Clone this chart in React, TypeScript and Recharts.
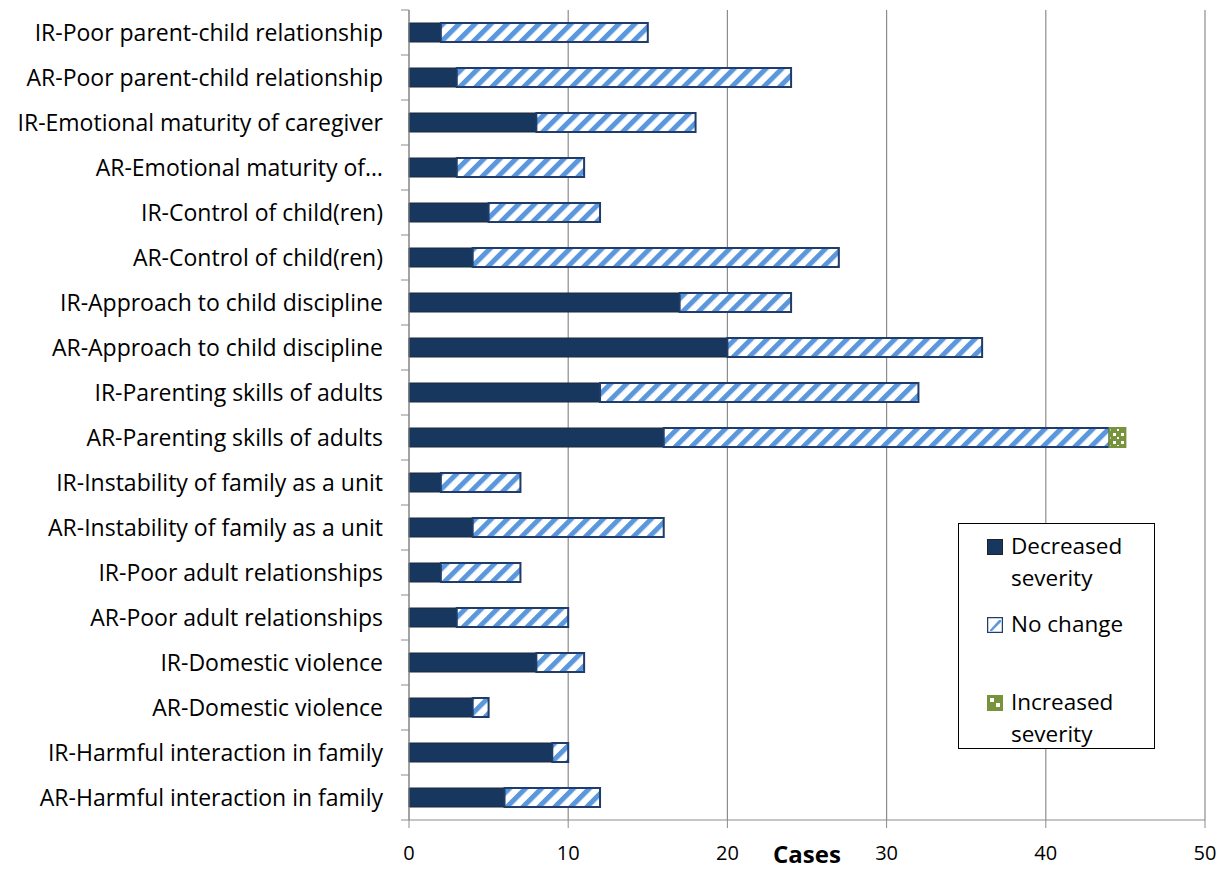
import React from "react";
import {
  BarChart, Bar, XAxis, YAxis, CartesianGrid, Legend,
} from "recharts";

// ── Data ───────────────────────────────────────────────────────────────────
const categories = [
  "IR-Poor parent-child relationship",
  "AR-Poor parent-child relationship",
  "IR-Emotional maturity of caregiver",
  "AR-Emotional maturity of…",
  "IR-Control of child(ren)",
  "AR-Control of child(ren)",
  "IR-Approach to child discipline",
  "AR-Approach to child discipline",
  "IR-Parenting skills of adults",
  "AR-Parenting skills of adults",
  "IR-Instability of family as a unit",
  "AR-Instability of family as a unit",
  "IR-Poor adult relationships",
  "AR-Poor adult relationships",
  "IR-Domestic violence",
  "AR-Domestic violence",
  "IR-Harmful interaction in family",
  "AR-Harmful interaction in family",
];

const decreased = [2, 3, 8, 3, 5, 4, 17, 20, 12, 16, 2, 4, 2, 3, 8, 4, 9, 6];
const noChange = [13, 21, 10, 8, 7, 23, 7, 16, 20, 28, 5, 12, 5, 7, 3, 1, 1, 6];
const increased = [0, 0, 0, 0, 0, 0, 0, 0, 0, 1, 0, 0, 0, 0, 0, 0, 0, 0];

const xTicks = [0, 10, 20, 30, 40, 50];

const data = categories.map((name, i) => ({
  name,
  decreased: decreased[i],
  noChange: noChange[i],
  increased: increased[i],
}));

// ── Style tokens ───────────────────────────────────────────────────────────
const FONT = "'Open Sans', sans-serif";
const NAVY = "#17375e";
const STRIPE = "#5b97dc";
const BORDER = "#1f3c6a";
const GREEN = "#77933c";
const GRID = "#8c8c8c";
const BAND = 45; // height of one category row

const CategoryTick = (props: any) => {
  const { x, y, payload, index } = props;
  return (
    <g>
      <text x={x} y={y} dy={8} textAnchor="end" fontSize={23} fill="#000" fontFamily={FONT}>
        {payload.value}
      </text>
      <line x1={x + 18} x2={x + 26} y1={y - BAND / 2} y2={y - BAND / 2} stroke={GRID} />
      {index === categories.length - 1 && (
        <line x1={x + 18} x2={x + 26} y1={y + BAND / 2} y2={y + BAND / 2} stroke={GRID} />
      )}
    </g>
  );
};

const Swatch: React.FC<{ kind: string }> = ({ kind }) => (
  <svg width={16} height={16} style={{ marginRight: 8, marginTop: 9, flex: "none" }}>
    {kind === "dec" && <rect x={0.5} y={0.5} width={15} height={15} fill={NAVY} stroke="#222" />}
    {kind === "no" && (
      <>
        <rect x={0.5} y={0.5} width={15} height={15} fill="#fff" stroke={BORDER} strokeWidth={1.5} />
        <polygon points="3,13 12,3 14,3 14,5 5,14 3,14" fill={STRIPE} />
      </>
    )}
    {kind === "inc" && (
      <>
        <rect x={0.5} y={0.5} width={15} height={15} fill={GREEN} stroke={GREEN} />
        <rect x={3} y={3} width={4} height={4} fill="#fff" />
        <rect x={9} y={8} width={4} height={4} fill="#fff" />
      </>
    )}
  </svg>
);

const LegendBox = () => {
  const row = (kind: string, lines: string[], mt: number) => (
    <div style={{ display: "flex", alignItems: "flex-start", marginTop: mt }}>
      <Swatch kind={kind} />
      <div style={{ lineHeight: "32px" }}>
        {lines.map((l) => (
          <div key={l}>{l}</div>
        ))}
      </div>
    </div>
  );
  return (
    <div
      style={{
        width: 197, height: 226, boxSizing: "border-box", border: "1.5px solid #000",
        background: "#fff", fontFamily: FONT, fontSize: 22.5, color: "#000",
        paddingLeft: 28, paddingTop: 6, whiteSpace: "nowrap",
      }}
    >
      {row("dec", ["Decreased", "severity"], 0)}
      {row("no", ["No change"], 14)}
      {row("inc", ["Increased", "severity"], 46)}
    </div>
  );
};

// ── Chart ──────────────────────────────────────────────────────────────────
const App: React.FC = () => (
  <div style={{ position: "absolute", left: 0, top: 0, width: 1221, height: 869, background: "#fff" }}>
    <BarChart
      width={1221}
      height={869}
      data={data}
      layout="vertical"
      margin={{ top: 10, right: 16, left: 0, bottom: 0 }}
      barSize={19}
    >
      <defs>
        <pattern id="hatch" patternUnits="userSpaceOnUse" width={11.3} height={11.3} patternTransform="rotate(45)">
          <rect width={11.3} height={11.3} fill="#fff" />
          <rect width={5} height={11.3} fill={STRIPE} />
        </pattern>
        <pattern id="dots" patternUnits="userSpaceOnUse" width={8} height={8}>
          <rect width={8} height={8} fill={GREEN} />
          <rect x={1} y={1} width={3} height={3} fill="#fff" />
          <rect x={5} y={5} width={2} height={2} fill="#fff" />
        </pattern>
      </defs>
      <CartesianGrid horizontal={false} stroke={GRID} strokeWidth={1.2} />
      <XAxis
        type="number"
        domain={[0, 50]}
        ticks={xTicks}
        interval={0}
        axisLine={{ stroke: GRID }}
        tickLine={{ stroke: GRID }}
        tickSize={8}
        tickMargin={18}
        height={49}
        tick={{ fontSize: 20, fill: "#000", fontFamily: FONT }}
        label={{ value: "Cases", position: "insideBottom", offset: 6, fontSize: 24, fontWeight: 700, fill: "#000", fontFamily: FONT }}
      />
      <YAxis
        type="category"
        dataKey="name"
        width={409}
        interval={0}
        axisLine={{ stroke: GRID }}
        tickLine={false}
        tickSize={0}
        tickMargin={26}
        tick={<CategoryTick />}
      />
      <Legend
        layout="vertical"
        verticalAlign="middle"
        align="center"
        wrapperStyle={{ position: "absolute", left: 958, top: 523, width: 197, height: 226 }}
        content={() => <LegendBox />}
      />
      <Bar dataKey="decreased" name="Decreased severity" stackId="a" fill={NAVY} stroke="#1d2b3c" strokeWidth={1} isAnimationActive={false} />
      <Bar dataKey="noChange" name="No change" stackId="a" fill="url(#hatch)" stroke={BORDER} strokeWidth={2} isAnimationActive={false} />
      <Bar dataKey="increased" name="Increased severity" stackId="a" fill="url(#dots)" stroke={GREEN} strokeWidth={2} isAnimationActive={false} />
    </BarChart>
  </div>
);

export default App;
